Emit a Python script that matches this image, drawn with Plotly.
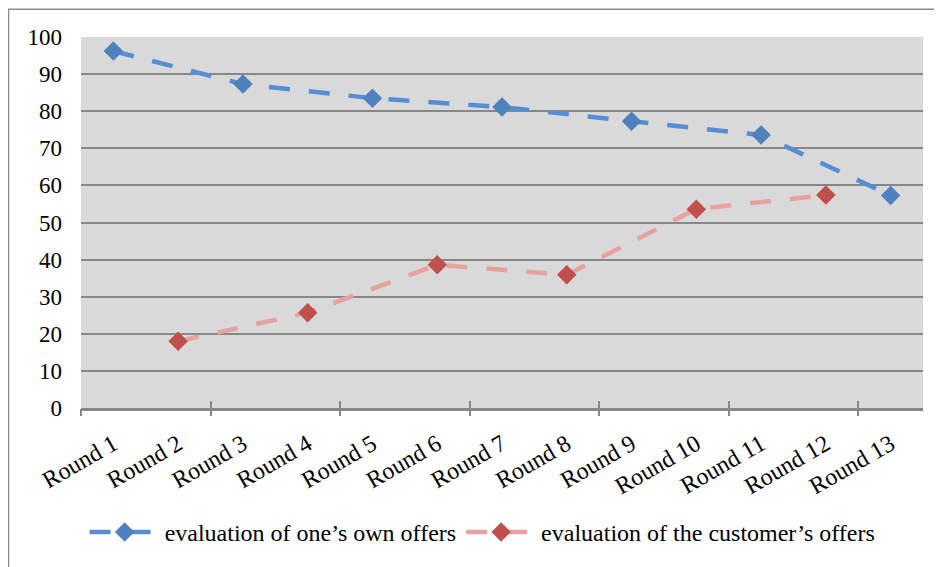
import plotly.graph_objects as go

# Data
rounds = ["Round 1", "Round 2", "Round 3", "Round 4", "Round 5", "Round 6", "Round 7",
          "Round 8", "Round 9", "Round 10", "Round 11", "Round 12", "Round 13"]
own_offers = [96.2, None, 87.3, None, 83.5, None, 81.1, None, 77.3, None, 73.6, None, 57.3]
customer_offers = [None, 18.0, None, 25.7, None, 38.6, None, 35.9, None, 53.6, None, 57.4, None]
y_ticks = [0, 10, 20, 30, 40, 50, 60, 70, 80, 90, 100]

# the page body adds an 8px margin, so the figure is 8px smaller than the window
W, H = 934, 559
M = dict(l=73, r=19, t=29, b=157)
font = "Liberation Serif, Times New Roman, serif"
grid = "#878787"

fig = go.Figure()

fig.add_trace(go.Scatter(
    x=rounds, y=own_offers, name="evaluation of one\u2019s own offers",
    mode="lines+markers", connectgaps=True,
    line=dict(color="#558ED5", width=4.5, dash="21px,19px"),
    marker=dict(symbol="diamond", size=15, color="#4F81BD"),
))
fig.add_trace(go.Scatter(
    x=rounds, y=customer_offers, name="evaluation of the customer\u2019s offers",
    mode="lines+markers", connectgaps=True,
    line=dict(color="#E6A1A0", width=4.5, dash="21px,19px"),
    marker=dict(symbol="diamond", size=15, color="#C0504D"),
))
# empty traces so the tick-only overlay axes get a subplot
for ax in ["x2", "x3"]:
    fig.add_trace(go.Scatter(x=[], y=[], xaxis=ax, showlegend=False, hoverinfo="skip"))

# tick marks between every second category, crossing the axis line
boundaries = [i - 0.5 for i in range(0, len(rounds), 2)]
tick_axis = dict(range=[-0.5, len(rounds) - 0.5], overlaying="x", anchor="y",
                 tickvals=boundaries, showticklabels=False, showgrid=False,
                 zeroline=False, showline=False, tickcolor=grid, tickwidth=1.5, ticklen=7)

# outer chart frame (pixel positions converted to paper coordinates)
pw = W - M["l"] - M["r"]
ph = H - M["t"] - M["b"]
fx0 = (0.5 - M["l"]) / pw
fx1 = (W + 5 - M["l"]) / pw
fy1 = (H - 1 - M["b"]) / ph
fy0 = (-5 - M["b"]) / ph

fig.update_layout(
    width=W, height=H, margin=M,
    paper_bgcolor="white", plot_bgcolor="#D9D9D9",
    font=dict(family=font, size=24, color="black"),
    showlegend=True,
    legend=dict(orientation="h", x=0.477, xanchor="center", y=-0.335, yanchor="middle",
                font=dict(family=font, size=24), itemwidth=70),
    xaxis=dict(type="category", range=[-0.5, len(rounds) - 0.5], tickangle=-30,
               ticks="", showgrid=False, showline=True, linecolor=grid, linewidth=2.5,
               ticklabelstandoff=10, tickfont=dict(family=font, size=24)),
    xaxis2=dict(tick_axis, ticks="outside"),
    xaxis3=dict(tick_axis, ticks="inside"),
    yaxis=dict(range=[0, 100], tickvals=y_ticks, showgrid=True, gridcolor=grid,
               gridwidth=1.5, zeroline=False, showline=False, ticks="",
               ticklabelstandoff=18, tickfont=dict(family=font, size=23)),
    shapes=[dict(type="rect", xref="paper", yref="paper", x0=fx0, x1=fx1, y0=fy0, y1=fy1,
                 line=dict(color="#8C8C8C", width=1.5), layer="below")],
)

fig.write_html("out.html")
